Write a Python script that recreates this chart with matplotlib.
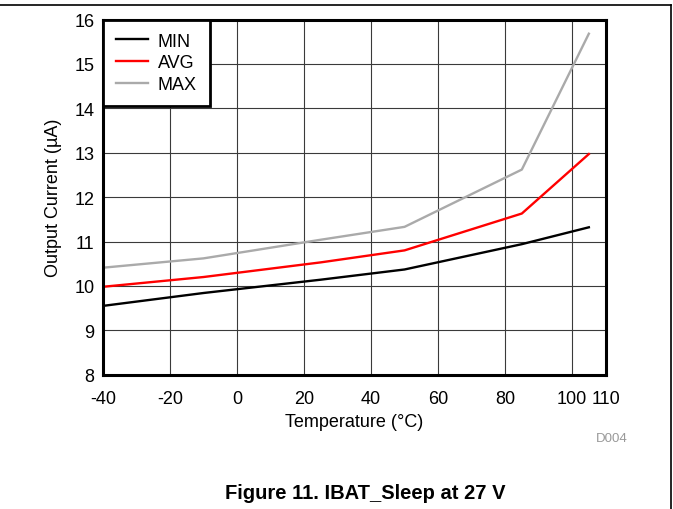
import matplotlib
matplotlib.use("Agg")
import matplotlib.pyplot as plt
from matplotlib.lines import Line2D

plt.rcParams['font.family'] = ['Liberation Sans', 'DejaVu Sans']

temps = [-40, -10, 25, 50, 85, 105]
min_vals = [9.55, 9.84, 10.14, 10.37, 10.94, 11.32]
avg_vals = [9.98, 10.20, 10.53, 10.80, 11.63, 12.97]
max_vals = [10.41, 10.62, 11.04, 11.33, 12.62, 15.68]
xticks = [-40, -20, 0, 20, 40, 60, 80, 100, 110]
yticks = [8, 9, 10, 11, 12, 13, 14, 15, 16]

W, H = 673, 510
fig = plt.figure(figsize=(W / 100, H / 100), dpi=100)
ax = fig.add_axes([103 / W, 1 - 375.7 / H, 502.6 / W, 355.2 / H])

lw = 1.7
ax.plot(temps, min_vals, color='black', lw=lw, label='MIN')
ax.plot(temps, avg_vals, color='#ff0000', lw=lw, label='AVG')
ax.plot(temps, max_vals, color='#aaaaaa', lw=lw, label='MAX')

ax.set_xlim(-40, 110)
ax.set_ylim(8, 16)
ax.set_xticks(xticks)
ax.set_yticks(yticks)
ax.set_xticklabels([str(t) for t in xticks])
ax.grid(True, color='#3a3a3a', lw=0.8)
ax.set_axisbelow(True)
ax.tick_params(length=0, labelsize=13)
ax.tick_params(axis='x', pad=11)
ax.tick_params(axis='y', pad=6)
for s in ax.spines.values():
    s.set_linewidth(2.2)
    s.set_color('black')

ax.set_xlabel('Temperature (°C)', fontsize=13, labelpad=4)
ax.set_ylabel('Output Current (µA)', fontsize=13, labelpad=9)

leg = ax.legend(loc='upper left', borderaxespad=0, fancybox=False,
                framealpha=1, edgecolor='black', fontsize=13,
                handlelength=1.75, handletextpad=0.55, labelspacing=0.27,
                borderpad=0.72)
leg.get_frame().set_linewidth(2.0)

fig.text(612 / W, 1 - 439 / H, 'D004', color='#999999', fontsize=9.5,
         ha='center', va='center')
fig.text(365 / W, 1 - 494 / H, 'Figure 11. IBAT_Sleep at 27 V',
         fontsize=14.5, fontweight='bold', ha='center', va='center')

fig.add_artist(Line2D([0, 670.5 / W], [1 - 6 / H, 1 - 6 / H], color='black',
                      lw=1.2, transform=fig.transFigure))
fig.add_artist(Line2D([670.5 / W, 670.5 / W], [1 - 6 / H, 0], color='black',
                      lw=1.2, transform=fig.transFigure))

fig.savefig('out.png', dpi=100)
